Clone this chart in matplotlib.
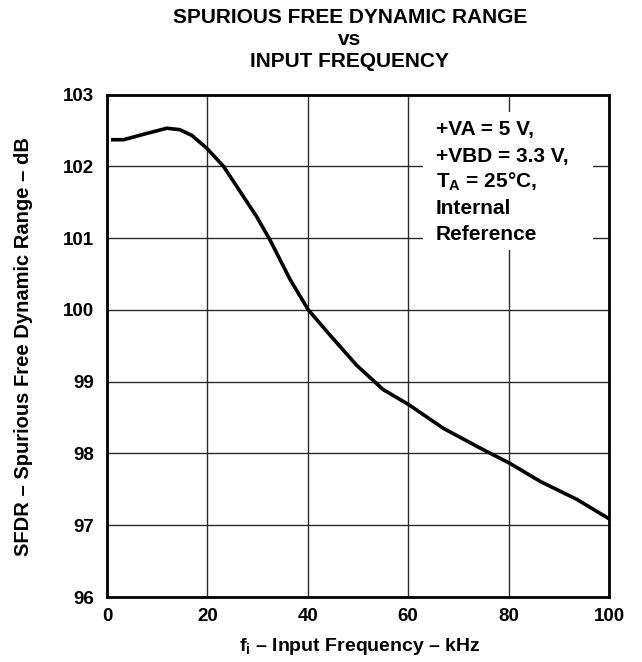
import matplotlib
matplotlib.use("Agg")
import matplotlib.pyplot as plt
from matplotlib.patches import Rectangle

plt.rcParams['font.family'] = ['Liberation Sans', 'DejaVu Sans']
plt.rcParams['font.weight'] = 'bold'
plt.rcParams['mathtext.fontset'] = 'custom'
plt.rcParams['mathtext.rm'] = 'Liberation Sans:bold'
plt.rcParams['mathtext.bf'] = 'Liberation Sans:bold'
plt.rcParams['mathtext.it'] = 'Liberation Sans:bold'

freq_khz = [0.8, 3.3, 7.5, 11.9, 14.5, 16.9, 19.9, 23.2, 26.5, 29.8, 32.5, 36.5, 40.1,
            44.4, 49.7, 55.0, 60.1, 67.0, 75.0, 80.3, 86.3, 93.6, 100.0]
sfdr_db = [102.37, 102.37, 102.45, 102.53, 102.51, 102.43, 102.25, 102.0, 101.65, 101.30,
           100.97, 100.42, 100.0, 99.65, 99.23, 98.89, 98.68, 98.35, 98.05, 97.86, 97.61,
           97.36, 97.09]
x_ticks = [0, 20, 40, 60, 80, 100]
y_ticks = [96, 97, 98, 99, 100, 101, 102, 103]
title_lines = ["SPURIOUS FREE DYNAMIC RANGE", "vs", "INPUT FREQUENCY"]
ann_lines = ["+VA = 5 V,", "+VBD = 3.3 V,", "$\\mathrm{T_A}$ = 25°C,", "Internal", "Reference"]

W, H = 642, 662
fig = plt.figure(figsize=(W / 100, H / 100), dpi=100)
L, R, T, B = 107, 609, 94.5, 597
ax = fig.add_axes([L / W, 1 - B / H, (R - L) / W, (B - T) / H])

def fx(px):
    return px / W

def fy(py):
    return 1 - py / H

ax.set_xlim(0, 100)
ax.set_ylim(96, 103)
ax.set_xticks(x_ticks)
ax.set_yticks(y_ticks)
ax.grid(True, color='#2a2a2a', linewidth=1.0)
ax.set_axisbelow(True)
ax.tick_params(axis='both', length=0, labelsize=13.5)
ax.tick_params(axis='x', pad=8)
ax.tick_params(axis='y', pad=9)
for lab in ax.get_xticklabels() + ax.get_yticklabels():
    lab.set_fontweight('bold')
for s in ax.spines.values():
    s.set_linewidth(2.0)
    s.set_color('black')

ax.plot(freq_khz, sfdr_db, color='black', linewidth=2.6, solid_joinstyle='round',
        solid_capstyle='butt', zorder=3)

# white box behind annotation (data coords derived from pixel layout)
bx0 = (423 - L) / (R - L) * 100
bx1 = (593 - L) / (R - L) * 100
by0 = 103 - (250 - T) / (B - T) * 7
by1 = 103 - (112 - T) / (B - T) * 7
ax.add_patch(Rectangle((bx0, by0), bx1 - bx0, by1 - by0, facecolor='white',
                       edgecolor='none', zorder=2))

ann_baselines = [135, 161.5, 188, 214, 240]
for line, yb in zip(ann_lines, ann_baselines):
    fig.text(fx(436), fy(yb), line, fontsize=15, fontweight='bold',
             ha='left', va='baseline', zorder=5)

for line, yb in zip(title_lines, [23, 45, 67]):
    fig.text(fx(350), fy(yb), line, fontsize=15, fontweight='bold',
             ha='center', va='baseline')

fig.text(fx(360), fy(651), "$\\mathrm{f_i}$ – Input Frequency – kHz", fontsize=14,
         fontweight='bold', ha='center', va='baseline')
fig.text(fx(24), fy(347), "SFDR – Spurious Free Dynamic Range – dB", fontsize=14.5,
         fontweight='bold', ha='center', va='center', rotation=90)

fig.savefig("out.png", dpi=100)
